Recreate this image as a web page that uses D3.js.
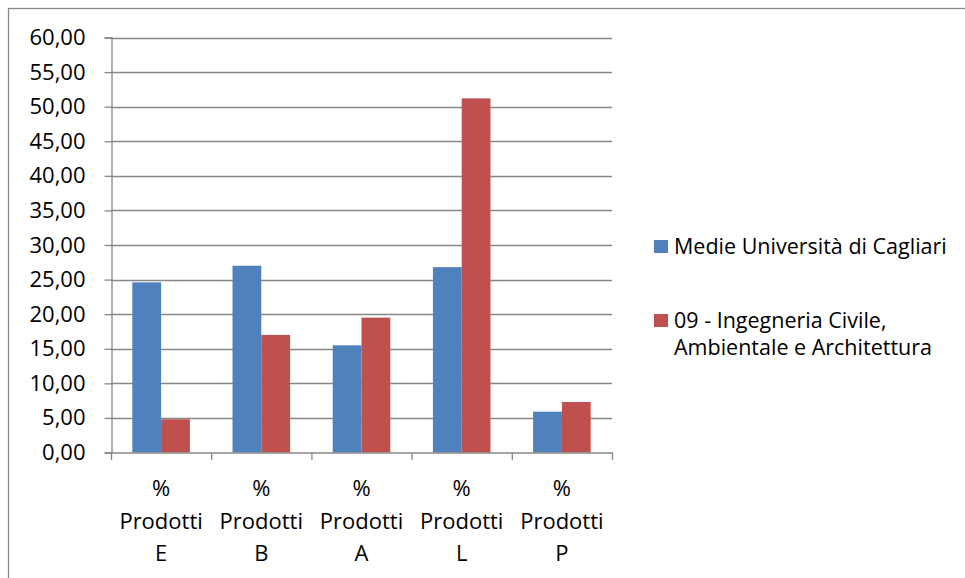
<!DOCTYPE html>
<html>
<head>
<meta charset="utf-8">
<script src="https://cdn.jsdelivr.net/npm/d3@7"></script>
<style>
  body { margin: 0; background: #fff; }
  svg { display: block; font-family: "Open Sans", "Noto Sans", sans-serif; }
</style>
</head>
<body>
<svg id="chart" width="965" height="578"></svg>
<script>
var categories = ["E", "B", "A", "L", "P"];
var seriesNames = ["Medie Università di Cagliari", "09 - Ingegneria Civile, Ambientale e Architettura"];
var medie = [24.6, 27.0, 15.5, 26.8, 5.9];
var ingegneria = [4.8, 17.0, 19.5, 51.2, 7.3];
var yTicks = [0, 5, 10, 15, 20, 25, 30, 35, 40, 45, 50, 55, 60];
var colors = ["#4F81BD", "#C0504D"];
var gridColor = "#878787";
var axisFont = 22;
var legendFont = 21.5;

var svg = d3.select("#chart");

// outer frame of the chart area
svg.append("rect")
    .attr("x", 8.5).attr("y", 8.5)
    .attr("width", 1000).attr("height", 600)
    .attr("fill", "none").attr("stroke", gridColor).attr("stroke-width", 1.3);

var plotLeft = 111, plotRight = 612, plotTop = 37.5, plotBottom = 452.5;

var y = d3.scaleLinear().domain([0, 60]).range([plotBottom, plotTop]);
var x = d3.scaleBand().domain(categories).range([plotLeft, plotRight]);
var inner = d3.scaleBand().domain([0, 1]).range([0, x.bandwidth()]).paddingOuter(0.74);

// gridlines
svg.append("g").selectAll("line")
    .data(yTicks.slice(1))
    .enter().append("line")
    .attr("x1", plotLeft).attr("x2", plotRight)
    .attr("y1", function(d) { return Math.round(y(d)) + 0.5; })
    .attr("y2", function(d) { return Math.round(y(d)) + 0.5; })
    .attr("stroke", gridColor).attr("stroke-width", 1.3);

// bars
var rows = categories.map(function(c, i) { return { cat: c, vals: [medie[i], ingegneria[i]] }; });
var groups = svg.append("g").selectAll("g")
    .data(rows)
    .enter().append("g")
    .attr("transform", function(d) { return "translate(" + x(d.cat) + ",0)"; });

groups.selectAll("rect")
    .data(function(d) { return d.vals.map(function(v, k) { return { v: v, k: k }; }); })
    .enter().append("rect")
    .attr("x", function(d) { return inner(d.k); })
    .attr("width", inner.bandwidth())
    .attr("y", function(d) { return y(d.v); })
    .attr("height", function(d) { return plotBottom - y(d.v); })
    .attr("fill", function(d) { return colors[d.k]; });

// y axis
var yAxis = d3.axisLeft(y).tickValues(yTicks).tickSize(7).tickPadding(19)
    .tickFormat(function(d) { return d3.format(".2f")(d).replace(".", ","); });
var gy = svg.append("g").attr("transform", "translate(" + (plotLeft + 0.5) + ",0)").call(yAxis);
gy.select(".domain").attr("stroke", gridColor).attr("stroke-width", 1.3);
gy.selectAll(".tick line").attr("stroke", gridColor).attr("stroke-width", 1.3);
gy.selectAll(".tick text").attr("font-size", axisFont).attr("fill", "#000")
    .attr("font-family", "'Open Sans', sans-serif");

// x axis
var gx = svg.append("g").attr("transform", "translate(0," + (plotBottom + 0.5) + ")");
gx.append("line").attr("x1", plotLeft).attr("x2", plotRight + 1)
    .attr("stroke", gridColor).attr("stroke-width", 1.3);
gx.selectAll("line.tk")
    .data(categories.concat(["end"]))
    .enter().append("line").attr("class", "tk")
    .attr("x1", function(d, i) { return plotLeft + 0.5 + i * x.bandwidth(); })
    .attr("x2", function(d, i) { return plotLeft + 0.5 + i * x.bandwidth(); })
    .attr("y1", 0).attr("y2", 7)
    .attr("stroke", gridColor).attr("stroke-width", 1.3);

var labels = svg.append("g").selectAll("text")
    .data(categories)
    .enter().append("text")
    .attr("text-anchor", "middle")
    .attr("font-size", axisFont)
    .attr("fill", "#000");
labels.each(function(d) {
    var t = d3.select(this);
    var cx = x(d) + x.bandwidth() / 2;
    ["%", "Prodotti", d].forEach(function(s, i) {
        t.append("tspan").attr("x", cx).attr("y", 496 + i * 32.5).text(s);
    });
});

// legend
var legend = svg.append("g");
var legendLines = [[seriesNames[0]], ["09 - Ingegneria Civile,", "Ambientale e Architettura"]];
var legendY = [246, 320];
legendLines.forEach(function(lines, k) {
    legend.append("rect")
        .attr("x", 654).attr("y", legendY[k] - 6)
        .attr("width", 14).attr("height", 13)
        .attr("fill", colors[k]);
    lines.forEach(function(s, j) {
        legend.append("text")
            .attr("x", 674).attr("y", legendY[k] + 8 + j * 27)
            .attr("font-size", legendFont).attr("fill", "#000")
            .text(s);
    });
});
</script>
</body>
</html>
